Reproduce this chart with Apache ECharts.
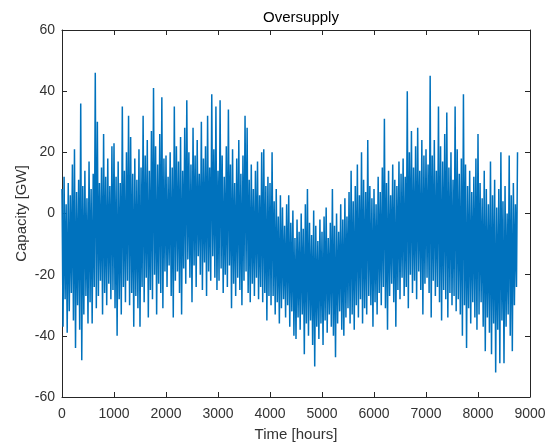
<!DOCTYPE html>
<html>
<head>
<meta charset="utf-8">
<script src="https://cdn.jsdelivr.net/npm/echarts@6/dist/echarts.min.js"></script>
<style>
  html, body { margin: 0; padding: 0; background: #ffffff; }
  #chart { width: 552px; height: 444px; }
</style>
</head>
<body>
<div id="chart"></div>
<script>
// Hourly oversupply over one year (GW). The dense hourly trace is kept as
// alternating local highs and lows: highs on even 20-hour steps, lows between.
const stepHours = 20;

const highs = [
  8, 12, 3, 10, 6, 16, 21, 7, 11, 36, 9, 14, 5, 17, 8, 13, 46, 30, 10, 15, 26, 12, 18, 9, 22,
  23, 12, 17, 10, 35, 14, 20, 32, 25, 13, 18, 11, 21, 15, 32, 19, 24, 14, 27, 41, 22, 16, 26, 38, 18,
  19, 12, 20, 15, 35, 22, 17, 25, 14, 28, 37, 20, 16, 28, 19, 24, 13, 30, 18, 22, 32, 15, 39, 21, 35,
  14, 37, 19, 12, 22, 34, 16, 21, 10, 18, 24, 13, 19, 32, 28, 11, 16, 8, 14, 17, 6, 20, 21, 9, 12,
  10, 20, 4, 8, -1, 6, 2, -4, 3, 6, -3, 1, -8, -2, -6, 0, -5, 3, 8, -3, -7, 1, -4, -9, -2,
  -6, -1, 2, -8, -3, 8, -4, 0, -6, 3, -2, 5, -1, 7, 14, 4, 9, 16, 6, 20, 11, 7, 24, 9, 5,
  8, 3, 12, 7, 15, 31, 10, 14, 6, 16, 11, 9, 17, 13, 18, 12, 40, 20, 27, 15, 22, 28, 14, 24, 19,
  21, 16, 45, 19, 24, 14, 35, 22, 17, 26, 33, 15, 20, 11, 35, 21, 13, 18, 39, 16, 9, 14, 7, 12, 18,
  26, 10, 5, 14, 8, 3, 17, 6, 11, 2, 8, 20, 4, 9, 0, 19, 6, 10, 3, 20
];

const lows = [
  -37, -28, -39, -32, -26, -35, -44, -30, -38, -48, -33, -27, -36, -29, -36, -24, -31, -27, -22, -33, -26, -30, -23, -28, -25,
  -31, -40, -28, -33, -24, -29, -22, -30, -26, -37, -27, -31, -37, -24, -29, -21, -34, -25, -28, -20, -33, -23, -26, -31, -19,
  -24, -17, -27, -34, -22, -19, -26, -33, -18, -23, -15, -21, -29, -17, -24, -14, -20, -25, -16, -27, -19, -22, -14, -21, -25,
  -22, -18, -26, -20, -24, -17, -31, -23, -27, -21, -25, -30, -22, -19, -26, -29, -23, -27, -21, -28, -24, -29, -26, -35, -27,
  -30, -27, -33, -29, -36, -31, -28, -34, -30, -37, -32, -40, -41, -34, -38, -33, -46, -36, -40, -35, -43, -50, -37, -41, -36,
  -43, -35, -39, -33, -37, -40, -47, -36, -32, -38, -40, -34, -31, -36, -33, -38, -30, -34, -28, -36, -31, -33, -27, -30, -37,
  -29, -33, -26, -30, -24, -31, -38, -27, -23, -29, -37, -25, -28, -21, -27, -24, -31, -20, -26, -22, -28, -19, -25, -33, -23,
  -21, -26, -34, -22, -27, -24, -29, -35, -25, -28, -34, -26, -30, -27, -32, -28, -33, -40, -30, -44, -31, -36, -29, -34, -38,
  -33, -29, -37, -45, -34, -39, -46, -36, -52, -38, -49, -35, -49, -37, -33, -40, -45, -30, -24
];

const xTicks = [0, 1000, 2000, 3000, 4000, 5000, 6000, 7000, 8000, 9000];
const yTicks = [-60, -40, -20, 0, 20, 40, 60];

// Interleave highs and lows into one time-ordered trace.
const trace = [];
for (let i = 0; i < highs.length; i++) {
  trace.push([2 * i * stepHours, highs[i]]);
  if (i < lows.length) trace.push([(2 * i + 1) * stepHours, lows[i]]);
}

const axisColor = '#262626';
const labelColor = '#333333';
const fontFamily = '"Liberation Sans", Arial, Helvetica, sans-serif';

const xBase = {
  type: 'value',
  min: xTicks[0],
  max: xTicks[xTicks.length - 1],
  interval: xTicks[1] - xTicks[0],
  axisLine: { show: true, onZero: false, lineStyle: { color: axisColor, width: 1 } },
  axisTick: { show: true, inside: true, length: 5, lineStyle: { color: axisColor } },
  splitLine: { show: false }
};
const yBase = {
  type: 'value',
  min: yTicks[0],
  max: yTicks[yTicks.length - 1],
  interval: yTicks[1] - yTicks[0],
  axisLine: { show: true, onZero: false, lineStyle: { color: axisColor, width: 1 } },
  axisTick: { show: true, inside: true, length: 5, lineStyle: { color: axisColor } },
  splitLine: { show: false }
};

const chart = echarts.init(document.getElementById('chart'), null, { renderer: 'canvas' });
chart.setOption({
  animation: false,
  backgroundColor: '#ffffff',
  textStyle: { fontFamily: fontFamily },
  title: {
    text: 'Oversupply',
    left: 296,
    top: 5,
    textAlign: 'center',
    textStyle: { fontFamily: fontFamily, fontSize: 15, fontWeight: 'normal', color: '#000000' }
  },
  grid: { left: 62, right: 22, top: 30, bottom: 47, containLabel: false, outerBoundsMode: 'none' },
  xAxis: [
    Object.assign({}, xBase, {
      position: 'bottom',
      name: 'Time [hours]',
      nameLocation: 'middle',
      nameGap: 30,
      nameMoveOverlap: false,
      nameTextStyle: { fontFamily: fontFamily, fontSize: 15, color: labelColor },
      axisLabel: {
        show: true, margin: 10, fontFamily: fontFamily, fontSize: 14, color: labelColor,
        formatter: function (v) { return String(v); }
      }
    }),
    Object.assign({}, xBase, { position: 'top', axisLabel: { show: false } })
  ],
  yAxis: [
    Object.assign({}, yBase, {
      position: 'left',
      name: 'Capacity [GW]',
      nameLocation: 'middle',
      nameGap: 33,
      nameRotate: 90,
      nameMoveOverlap: false,
      nameTextStyle: { fontFamily: fontFamily, fontSize: 15, color: labelColor },
      axisLabel: { show: true, margin: 7, fontFamily: fontFamily, fontSize: 14, color: labelColor }
    }),
    Object.assign({}, yBase, { position: 'right', axisLabel: { show: false } })
  ],
  series: [{
    type: 'line',
    xAxisIndex: 0,
    yAxisIndex: 0,
    data: trace,
    showSymbol: false,
    symbol: 'none',
    sampling: null,
    lineStyle: { color: '#0072BD', width: 1.5 },
    silent: true
  }]
});
</script>
</body>
</html>
